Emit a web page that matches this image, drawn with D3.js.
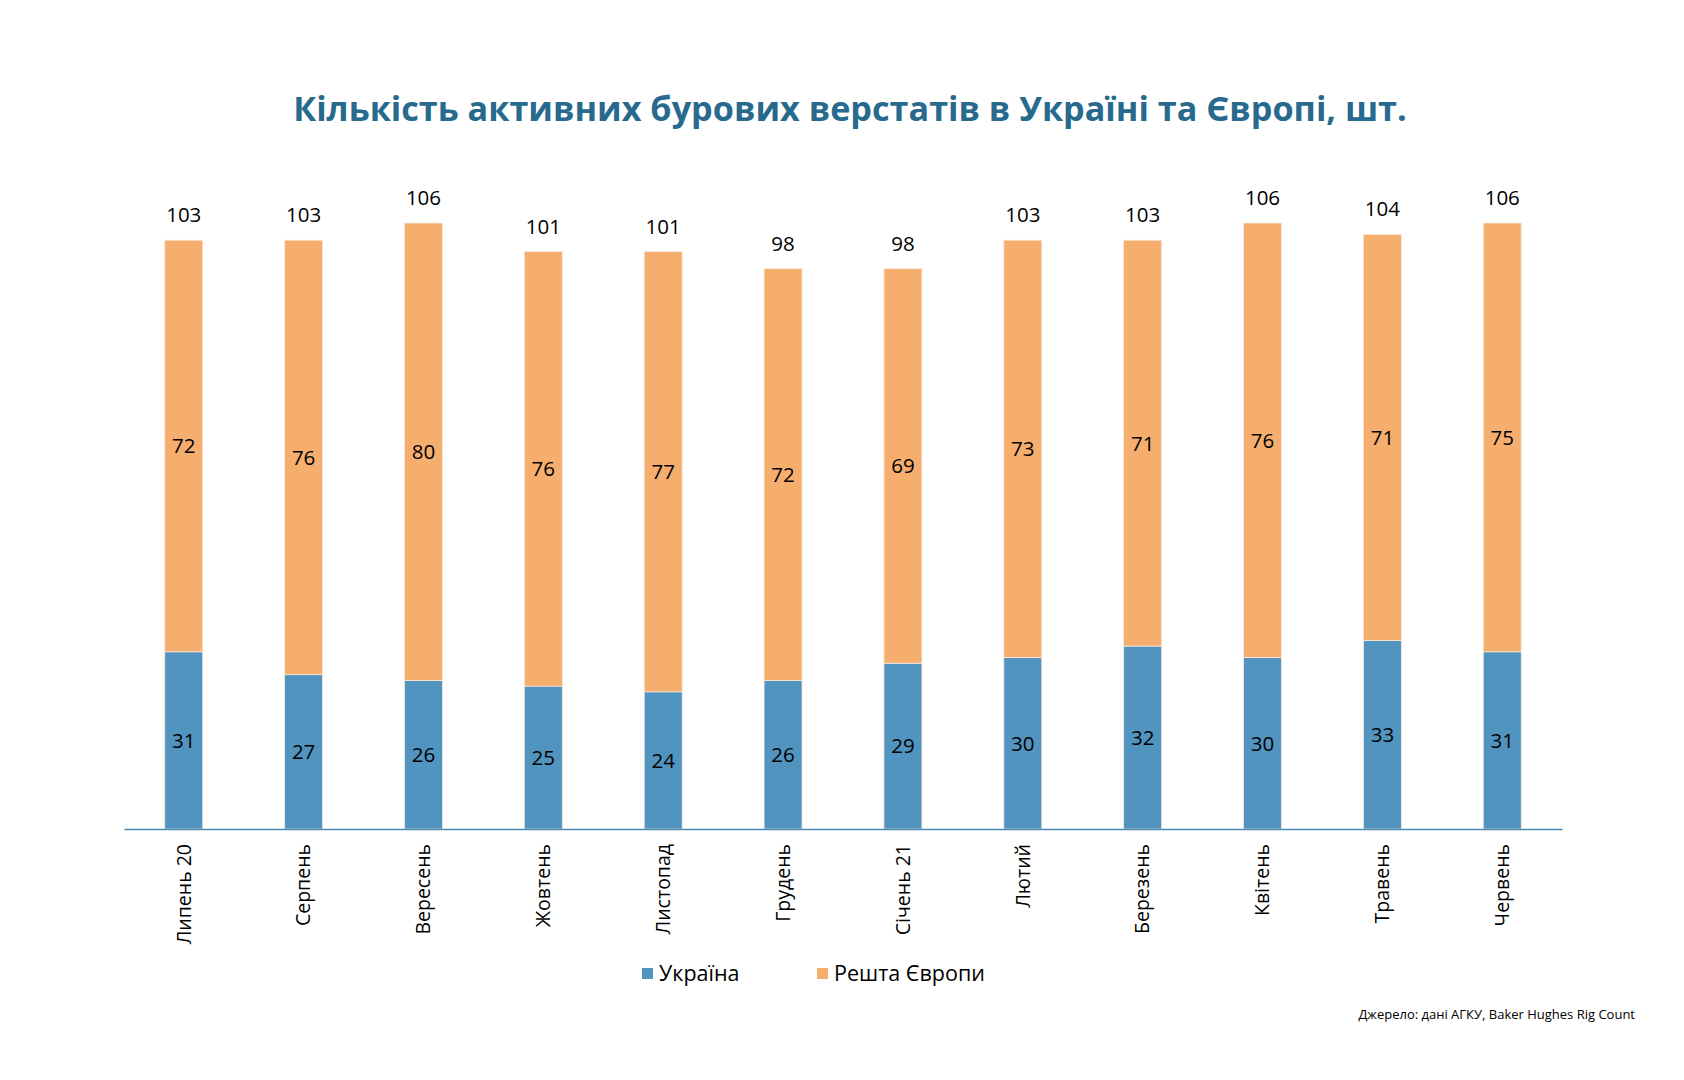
<!DOCTYPE html>
<html>
<head>
<meta charset="utf-8">
<script src="https://cdn.jsdelivr.net/npm/d3@7"></script>
<style>
	body { margin: 0; background: #fff; }
	text { font-family: "Open Sans", Lato, sans-serif; }
</style>
</head>
<body>
<script>
var months = ["Липень 20", "Серпень", "Вересень", "Жовтень", "Листопад", "Грудень",
	"Січень 21", "Лютий", "Березень", "Квітень", "Травень", "Червень"],
	ukraine = [31, 27, 26, 25, 24, 26, 29, 30, 32, 30, 33, 31],
	restEurope = [72, 76, 80, 76, 77, 72, 69, 73, 71, 76, 71, 75],
	seriesNames = ["Україна", "Решта Європи"],
	colors = ["#5094bf", "#f6ae6f"];

var W = 1684, H = 1080;
var margin = {top: 143, left: 124, right: 122, bottom: 251},
	width = W - margin.left - margin.right,
	height = H - margin.top - margin.bottom;

var svg = d3.select('body')
	.append('svg')
	.attr('width', W)
	.attr('height', H);

// title
svg.append('text')
	.attr('x', 850)
	.attr('y', 121)
	.attr('text-anchor', 'middle')
	.style('font-size', '34.2px')
	.style('font-weight', 700)
	.style('fill', '#276a8d')
	.text('Кількість активних бурових верстатів в Україні та Європі, шт.');

var main = svg.append('g')
	.attr('transform', 'translate(' + margin.left + ',' + margin.top + ')');

var x = d3.scaleBand()
	.domain(months)
	.range([0, width])
	.paddingInner(0.683)
	.paddingOuter(0.34);

var y = d3.scaleLinear()
	.domain([0, 120])
	.range([height, 0]);

var rows = months.map(function(m, i) {
	return {month: m, ua: ukraine[i], rest: restEurope[i]};
});
var stack = d3.stack().keys(['ua', 'rest'])(rows);

main.selectAll('g.layer')
	.data(stack)
	.enter().append('g')
	.attr('class', 'layer')
	.attr('fill', function(d, i) { return colors[i]; })
	.selectAll('rect')
	.data(function(d) { return d; })
	.enter().append('rect')
	.attr('x', function(d) { return x(d.data.month); })
	.attr('y', function(d) { return y(d[1]); })
	.attr('width', x.bandwidth())
	.attr('height', function(d) { return y(d[0]) - y(d[1]); })
	.attr('stroke', '#fbe9dc')
	.attr('stroke-width', 0.8);

// segment values
stack.forEach(function(layer) {
	main.append('g').selectAll('text')
		.data(layer)
		.enter().append('text')
		.attr('x', function(d) { return x(d.data.month) + x.bandwidth() / 2; })
		.attr('y', function(d) { return (y(d[0]) + y(d[1])) / 2; })
		.attr('dy', '0.36em')
		.attr('text-anchor', 'middle')
		.style('font-size', '20.5px')
		.style('fill', '#000')
		.text(function(d) { return d[1] - d[0]; });
});

// totals
main.append('g').selectAll('text')
	.data(rows)
	.enter().append('text')
	.attr('x', function(d) { return x(d.month) + x.bandwidth() / 2; })
	.attr('y', function(d) { return y(d.ua + d.rest) - 18; })
	.attr('text-anchor', 'middle')
	.style('font-size', '20.5px')
	.style('fill', '#000')
	.text(function(d) { return d.ua + d.rest; });

// x axis
var xAxis = main.append('g')
	.attr('transform', 'translate(0,' + height + ')')
	.call(d3.axisBottom(x).tickSize(0).tickPadding(0));
xAxis.select('.domain').attr('stroke', '#4a8bb2').attr('stroke-width', 1.3);
xAxis.selectAll('.tick text')
	.attr('transform', 'translate(0,15) rotate(-90)')
	.attr('text-anchor', 'end')
	.attr('x', 0)
	.attr('y', 0)
	.attr('dy', '0.35em')
	.style('font-family', '"Open Sans", Lato, sans-serif')
	.style('font-size', '19.5px')
	.style('fill', '#000');

// legend
var legendX = [642, 817];
var legend = svg.append('g').selectAll('g')
	.data(seriesNames)
	.enter().append('g')
	.attr('transform', function(d, i) { return 'translate(' + legendX[i] + ',968)'; });
legend.append('rect')
	.attr('width', 11)
	.attr('height', 11)
	.attr('fill', function(d, i) { return colors[i]; });
legend.append('text')
	.attr('x', 17)
	.attr('y', 5.5)
	.attr('dy', '0.36em')
	.style('font-size', '21.5px')
	.style('fill', '#000')
	.text(function(d) { return d; });

// source
svg.append('text')
	.attr('x', 1635)
	.attr('y', 1019)
	.attr('text-anchor', 'end')
	.style('font-size', '13px')
	.style('fill', '#000')
	.text('Джерело: дані АГКУ, Baker Hughes Rig Count');
</script>
</body>
</html>
